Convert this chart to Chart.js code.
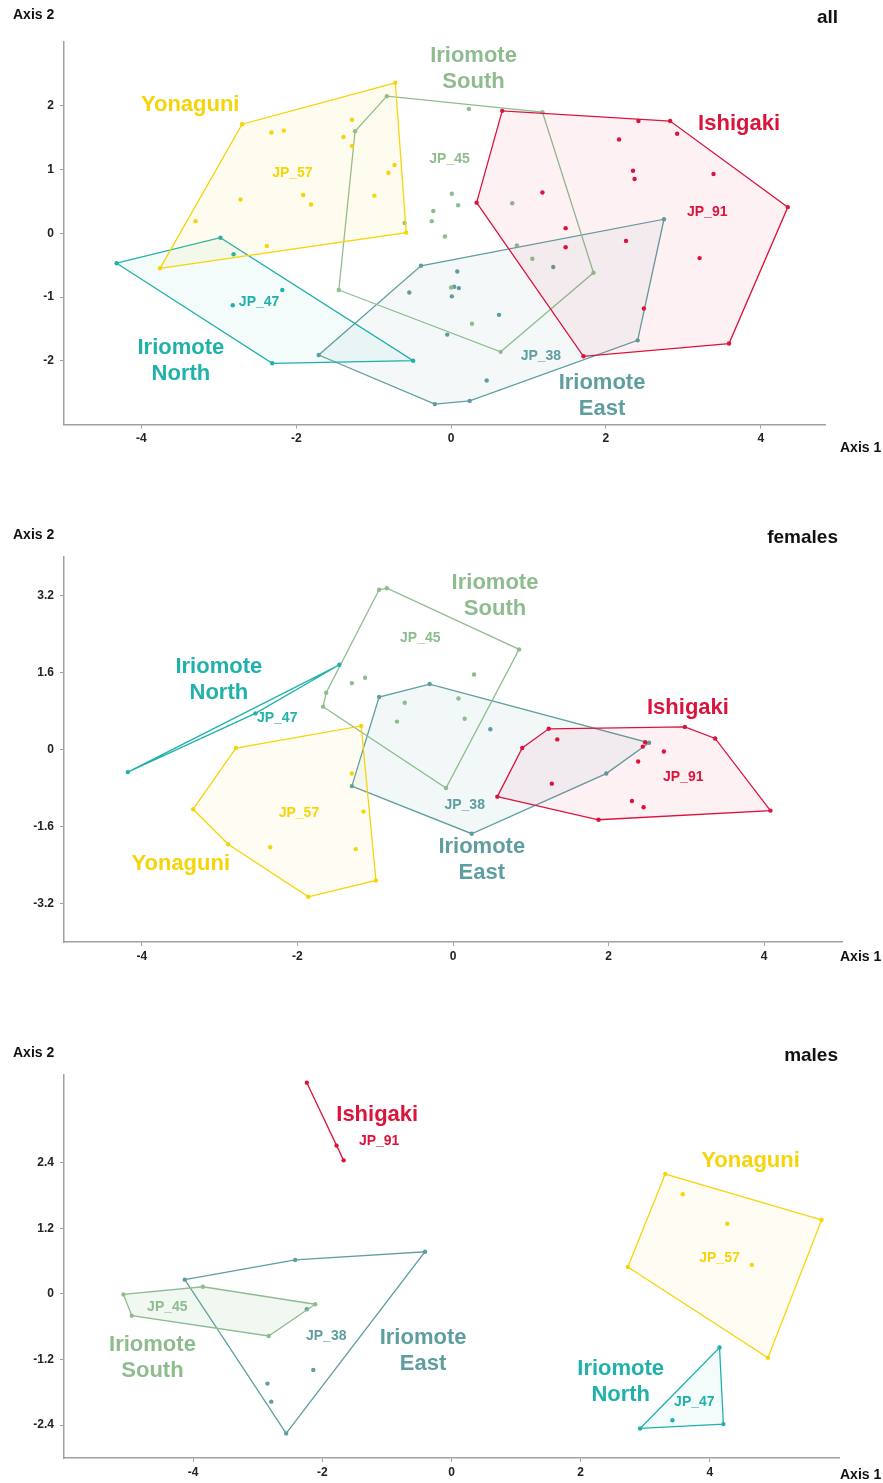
<!DOCTYPE html>
<html>
<head>
<meta charset="utf-8">
<script src="https://cdn.jsdelivr.net/npm/chart.js@4.4.1/dist/chart.umd.min.js"></script>
<style>
body { margin: 0; background: #fff; width: 883px; height: 1483px; position: relative; overflow: hidden; font-family: "Liberation Sans", Arial, sans-serif; }
canvas { position: absolute; left: 0; }
.txt { position: absolute; font-weight: bold; color: #111; white-space: nowrap; line-height: 1; }
</style>
</head>
<body>
<canvas id="c0" width="883" height="470"></canvas>
<canvas id="c1" width="883" height="470"></canvas>
<canvas id="c2" width="883" height="443"></canvas>
<script>
// groups and colours
const groups = ['Yonaguni', 'Ishigaki', 'Iriomote North', 'Iriomote South', 'Iriomote East'];
const colors = ['#f6d40a', '#dc143c', '#20b2aa', '#8fbc8f', '#5f9ea0'];
const titles = ['all', 'females', 'males'];

// ---- panel "all" ----
const allYonaguni = [[-0.72,2.36],[-2.70,1.71],[-3.76,-0.55],[-0.58,0.01],[-2.32,1.58],[-2.16,1.61],[-1.28,1.78],[-1.39,1.51],[-1.28,1.37],[-0.73,1.07],[-0.81,0.95],[-0.99,0.59],[-1.91,0.60],[-1.81,0.45],[-2.72,0.53],[-3.30,0.19],[-2.38,-0.20]];
const allIshigaki = [[0.66,1.92],[2.83,1.76],[4.35,0.41],[3.59,-1.73],[1.71,-1.93],[0.33,0.48],[2.42,1.76],[2.92,1.56],[2.17,1.47],[2.35,0.98],[2.37,0.85],[3.39,0.93],[1.18,0.64],[1.48,0.08],[1.48,-0.22],[2.26,-0.12],[3.21,-0.39],[2.49,-1.18]];
const allNorth = [[-4.32,-0.47],[-2.98,-0.07],[-0.49,-2.00],[-2.31,-2.04],[-2.81,-0.33],[-2.18,-0.89],[-2.82,-1.13]];
const allSouth = [[-0.83,2.15],[-1.24,1.60],[-1.45,-0.89],[0.64,-1.86],[1.84,-0.62],[1.18,1.90],[0.23,1.95],[-0.60,0.16],[-0.23,0.35],[-0.25,0.19],[-0.08,-0.05],[0.01,0.62],[0.09,0.44],[0.79,0.47],[0.85,-0.19],[1.05,-0.40],[0.27,-1.42],[0.00,-0.85]];
const allEast = [[-0.39,-0.51],[-1.71,-1.91],[-0.21,-2.68],[0.24,-2.63],[2.41,-1.68],[2.75,0.22],[-0.54,-0.93],[-0.05,-1.59],[0.08,-0.60],[0.04,-0.84],[0.10,-0.86],[0.01,-0.99],[0.62,-1.28],[1.32,-0.53],[0.46,-2.31]];

// ---- panel "females" ----
const femYonaguni = [[-1.18,0.49],[-2.79,0.03],[-3.34,-1.24],[-2.89,-1.97],[-1.86,-3.06],[-0.99,-2.72],[-1.30,-0.50],[-1.15,-1.29],[-2.35,-2.03],[-1.25,-2.07]];
const femIshigaki = [[1.23,0.43],[2.98,0.47],[3.37,0.23],[4.08,-1.27],[1.87,-1.46],[0.57,-0.98],[0.89,0.03],[1.34,0.21],[2.47,0.15],[2.44,0.06],[2.71,-0.04],[2.38,-0.25],[1.27,-0.71],[2.30,-1.07],[2.45,-1.20]];
const femNorth = [[-1.46,1.76],[-4.18,-0.47],[-2.54,0.75]];
const femSouth = [[-0.95,3.32],[-0.85,3.35],[-1.63,1.18],[-1.67,0.89],[-0.09,-0.80],[0.85,2.08],[-1.30,1.38],[-1.13,1.49],[-0.62,0.97],[-0.72,0.58],[0.27,1.56],[0.07,1.06],[0.15,0.64]];
const femEast = [[-0.95,1.09],[-0.30,1.36],[2.52,0.14],[1.97,-0.50],[0.24,-1.75],[-1.30,-0.76],[0.48,0.42]];

// ---- panel "males" ----
const malYonaguni = [[3.31,2.19],[5.73,1.35],[4.90,-1.17],[2.73,0.49],[3.58,1.82],[4.27,1.28],[4.65,0.53]];
const malIshigaki = [[-2.24,3.86],[-1.78,2.71],[-1.67,2.44]];
const malNorth = [[4.15,-0.98],[4.21,-2.38],[2.92,-2.46],[3.42,-2.31]];
const malSouth = [[-5.08,-0.01],[-3.85,0.13],[-2.11,-0.19],[-2.83,-0.77],[-4.95,-0.40]];
const malEast = [[-4.13,0.26],[-2.42,0.62],[-0.41,0.77],[-2.56,-2.55],[-2.24,-0.28],[-2.14,-1.39],[-2.85,-1.64],[-2.79,-1.97]];

// group labels: text, x, y, group index
const allLabels = [['Yonaguni',-3.37,2.01,0],['JP_57',-2.05,0.94,0],['Iriomote\nSouth',0.29,2.58,3],['JP_45',-0.02,1.17,3],['Ishigaki',3.72,1.72,1],['JP_91',3.31,0.33,1],['JP_47',-2.48,-1.08,2],['Iriomote\nNorth',-3.49,-2.01,2],['JP_38',1.16,-1.93,4],['Iriomote\nEast',1.95,-2.55,4]];
const femLabels = [['Iriomote\nSouth',0.54,3.20,3],['JP_45',-0.42,2.32,3],['Iriomote\nNorth',-3.01,1.45,2],['JP_47',-2.26,0.66,2],['Ishigaki',3.02,0.87,1],['JP_91',2.96,-0.58,1],['JP_38',0.15,-1.16,4],['Iriomote\nEast',0.37,-2.30,4],['JP_57',-1.98,-1.33,0],['Yonaguni',-3.50,-2.37,0]];
const malLabels = [['Ishigaki',-1.15,3.27,1],['JP_91',-1.12,2.79,1],['Yonaguni',4.63,2.43,0],['JP_57',4.15,0.66,0],['JP_45',-4.40,-0.24,3],['JP_38',-1.94,-0.77,4],['Iriomote\nSouth',-4.63,-1.18,3],['Iriomote\nEast',-0.44,-1.04,4],['Iriomote\nNorth',2.62,-1.61,2],['JP_47',3.76,-1.97,2]];

// axis ranges and ticks
const xRanges = [[-5, 4.83], [-5, 5], [-6, 6]];
const yRanges = [[-3, 3], [-4, 4], [-3, 4]];
const xTicks = [[-4,-2,0,2,4], [-4,-2,0,2,4], [-4,-2,0,2,4]];
const yTicks = [[-2,-1,0,1,2], [-3.2,-1.6,0,1.6,3.2], [-2.4,-1.2,0,1.2,2.4]];

// layout of each panel (pixels on the page)
const panels = [
  { top: 0,    h: 470, T: 42,   B: 424.5, R: 825, axis2: 14,   title: 16,   axis1: 447,  fills: [0.07,0.06,0.05,0.0,0.07] },
  { top: 520,  h: 470, T: 557,  B: 942,   R: 842, axis2: 534,  title: 536,  axis1: 956,  fills: [0.05,0.06,0.0,0.0,0.08] },
  { top: 1040, h: 443, T: 1075, B: 1458,  R: 839, axis2: 1052, title: 1054, axis1: 1474, fills: [0.05,0.0,0.05,0.12,0.0] }
];
const panelData = [
  [allYonaguni, allIshigaki, allNorth, allSouth, allEast],
  [femYonaguni, femIshigaki, femNorth, femSouth, femEast],
  [malYonaguni, malIshigaki, malNorth, malSouth, malEast]
];
const panelLabels = [allLabels, femLabels, malLabels];

function hexA(hex, a) {
  const n = parseInt(hex.slice(1), 16);
  return `rgba(${n >> 16}, ${(n >> 8) & 255}, ${n & 255}, ${a})`;
}

// convex hull (monotone chain), closed
function hull(pts) {
  const p = pts.map(a => ({ x: a[0], y: a[1] })).sort((a, b) => a.x - b.x || a.y - b.y);
  const cross = (o, a, b) => (a.x - o.x) * (b.y - o.y) - (a.y - o.y) * (b.x - o.x);
  const lo = [], up = [];
  for (const q of p) { while (lo.length >= 2 && cross(lo[lo.length - 2], lo[lo.length - 1], q) <= 0) lo.pop(); lo.push(q); }
  for (const q of p.slice().reverse()) { while (up.length >= 2 && cross(up[up.length - 2], up[up.length - 1], q) <= 0) up.pop(); up.push(q); }
  lo.pop(); up.pop();
  const h = lo.concat(up);
  h.push(h[0]);
  return h;
}

// draws the group names at data coordinates
const groupLabels = {
  id: 'groupLabels',
  afterDatasetsDraw(chart, args, opts) {
    const ctx = chart.ctx;
    ctx.save();
    ctx.textAlign = 'center';
    ctx.textBaseline = 'middle';
    opts.items.forEach(([text, x, y, g]) => {
      const px = chart.scales.x.getPixelForValue(x);
      const py = chart.scales.y.getPixelForValue(y);
      const big = !text.startsWith('JP_');
      ctx.font = big ? 'bold 22px "Liberation Sans", Arial' : 'bold 14px "Liberation Sans", Arial';
      ctx.fillStyle = colors[g];
      const lines = text.split('\n');
      lines.forEach((ln, i) => ctx.fillText(ln, px, py + (i - (lines.length - 1) / 2) * 26));
    });
    ctx.restore();
  }
};

function addText(text, left, cy, size, alignRight) {
  const d = document.createElement('div');
  d.className = 'txt';
  d.textContent = text;
  d.style.fontSize = size + 'px';
  d.style.top = (cy - size / 2) + 'px';
  if (alignRight) d.style.right = (883 - left) + 'px'; else d.style.left = left + 'px';
  document.body.appendChild(d);
}

panels.forEach((pn, k) => {
  const canvas = document.getElementById('c' + k);
  canvas.style.top = pn.top + 'px';
  const datasets = [];
  panelData[k].forEach((pts, g) => {
    datasets.push({
      label: groups[g] + ' hull',
      data: hull(pts),
      showLine: true,
      fill: pn.fills[g] > 0 ? 'shape' : false,
      backgroundColor: hexA(colors[g], pn.fills[g]),
      borderColor: colors[g],
      borderWidth: 1.3,
      pointRadius: 0,
      tension: 0
    });
    datasets.push({
      label: groups[g],
      data: pts.map(a => ({ x: a[0], y: a[1] })),
      backgroundColor: colors[g],
      borderWidth: 0,
      pointRadius: 2.2
    });
  });

  new Chart(canvas, {
    type: 'scatter',
    data: { datasets: datasets },
    options: {
      responsive: false,
      animation: false,
      layout: { padding: { top: pn.T - pn.top, right: 883 - pn.R, left: 0, bottom: 0 } },
      plugins: {
        legend: { display: false },
        tooltip: { enabled: false },
        groupLabels: { items: panelLabels[k] }
      },
      scales: {
        x: {
          type: 'linear',
          min: xRanges[k][0],
          max: xRanges[k][1],
          afterBuildTicks: axis => { axis.ticks = xTicks[k].map(v => ({ value: v })); },
          afterFit: scale => { scale.height = pn.h - (pn.B - pn.top); },
          border: { color: '#a0a0a0', width: 1.5 },
          grid: { drawOnChartArea: false, drawTicks: true, tickLength: 4, color: '#a0a0a0' },
          ticks: {
            padding: 3,
            color: '#222',
            font: { family: '"Liberation Sans", Arial', size: 12, weight: 'bold' },
            callback: v => String(v)
          }
        },
        y: {
          type: 'linear',
          min: yRanges[k][0],
          max: yRanges[k][1],
          afterBuildTicks: axis => { axis.ticks = yTicks[k].map(v => ({ value: v })); },
          afterFit: scale => { scale.width = 64; },
          border: { color: '#a0a0a0', width: 1.5 },
          grid: { drawOnChartArea: false, drawTicks: true, tickLength: 4, color: '#a0a0a0' },
          ticks: {
            padding: 6,
            color: '#222',
            font: { family: '"Liberation Sans", Arial', size: 12, weight: 'bold' },
            callback: v => String(v)
          }
        }
      }
    },
    plugins: [groupLabels]
  });

  addText('Axis 2', 13, pn.axis2, 14, false);
  addText(titles[k], 838, pn.title, 19, true);
  addText('Axis 1', 840, pn.axis1, 14, false);
});
</script>
</body>
</html>
